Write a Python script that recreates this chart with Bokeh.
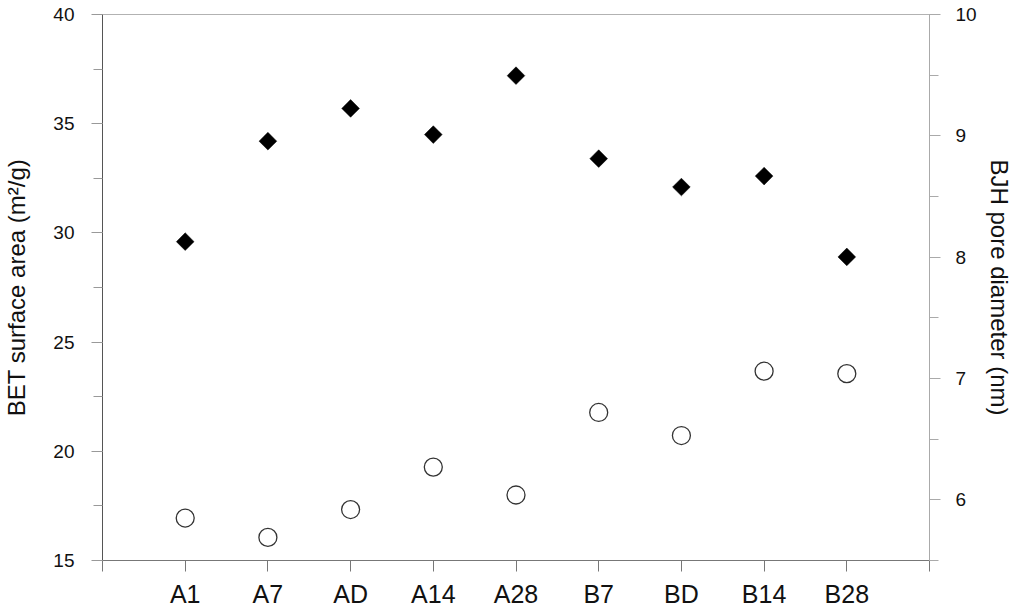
import math
from bokeh.plotting import figure
from bokeh.models import Range1d, LinearAxis, FixedTicker, SingleIntervalTicker, Span, ColumnDataSource
from bokeh.embed import file_html
from bokeh.resources import INLINE

categories = ["A1", "A7", "AD", "A14", "A28", "B7", "BD", "B14", "B28"]
bet_area = [29.6, 34.2, 35.7, 34.5, 37.2, 33.4, 32.1, 32.6, 28.9]
bjh_diameter = [5.85, 5.69, 5.92, 6.27, 6.04, 6.72, 6.53, 7.06, 7.04]

positions = list(range(1, len(categories) + 1))
src = ColumnDataSource(dict(x=positions, bet=bet_area, bjh=bjh_diameter, cat=categories))

FONT = "Liberation Sans"

p = figure(width=1016, height=612, output_backend="svg", toolbar_location=None,
           x_range=Range1d(0, len(categories) + 1), y_range=Range1d(15, 40),
           min_border_left=99, min_border_right=87, min_border_top=14, min_border_bottom=52)
p.extra_y_ranges = {"bjh": Range1d(5.5, 10)}
p.xgrid.visible = False
p.ygrid.visible = False
p.outline_line_color = None
p.background_fill_color = "white"
p.border_fill_color = "white"

# x axis
xa = p.xaxis[0]
xa.ticker = FixedTicker(ticks=[0] + positions + [len(categories) + 1])
overrides = {0: "", len(categories) + 1: ""}
for i, c in zip(positions, categories):
    overrides[i] = c
xa.major_label_overrides = overrides
xa.major_tick_out = 11
xa.major_tick_in = 0
xa.minor_tick_out = 0
xa.minor_tick_in = 0
xa.axis_line_color = "#777777"
xa.major_tick_line_color = "#777777"
xa.major_label_text_font = FONT
xa.major_label_text_font_size = "25px"
xa.major_label_text_color = "#111111"
xa.major_label_standoff = 8

# left axis
ya = p.yaxis[0]
ya.ticker = SingleIntervalTicker(interval=5, num_minor_ticks=2)
ya.axis_label = "BET surface area (m\u00b2/g)"
ya.axis_line_color = "#555555"
ya.major_tick_line_color = "#999999"
ya.minor_tick_line_color = "#999999"
ya.major_tick_out = 11
ya.major_tick_in = 0
ya.minor_tick_out = 9
ya.minor_tick_in = 0
ya.major_label_text_font = FONT
ya.major_label_text_font_size = "19px"
ya.major_label_text_color = "#111111"
ya.major_label_standoff = 17
ya.axis_label_text_font = FONT
ya.axis_label_text_font_size = "24px"
ya.axis_label_text_font_style = "normal"
ya.axis_label_text_color = "#111111"
ya.axis_label_standoff = 20

# right axis
ra = LinearAxis(y_range_name="bjh", ticker=SingleIntervalTicker(interval=1, num_minor_ticks=2),
                axis_label="BJH pore diameter (nm)")
ra.axis_line_color = "#aaaaaa"
ra.major_tick_line_color = "#aaaaaa"
ra.minor_tick_line_color = "#aaaaaa"
ra.major_tick_out = 11
ra.major_tick_in = 0
ra.minor_tick_out = 9
ra.minor_tick_in = 0
ra.major_label_text_font = FONT
ra.major_label_text_font_size = "19px"
ra.major_label_text_color = "#111111"
ra.major_label_standoff = 15
ra.axis_label_text_font = FONT
ra.axis_label_text_font_size = "24px"
ra.axis_label_text_font_style = "normal"
ra.axis_label_text_color = "#111111"
ra.axis_label_standoff = 6
p.add_layout(ra, "right")

# top border line
p.add_layout(Span(location=40, dimension="width", line_color="#666666", line_width=1))

# markers
p.scatter("x", "bet", source=src, marker="square", size=12.5, angle=math.pi / 4,
          fill_color="black", line_color="black", line_width=0.5)
p.scatter("x", "bjh", source=src, y_range_name="bjh", marker="circle", size=18,
          fill_color="white", line_color="#333333", line_width=1.3)

open("out.html", "w").write(file_html(p, INLINE))
